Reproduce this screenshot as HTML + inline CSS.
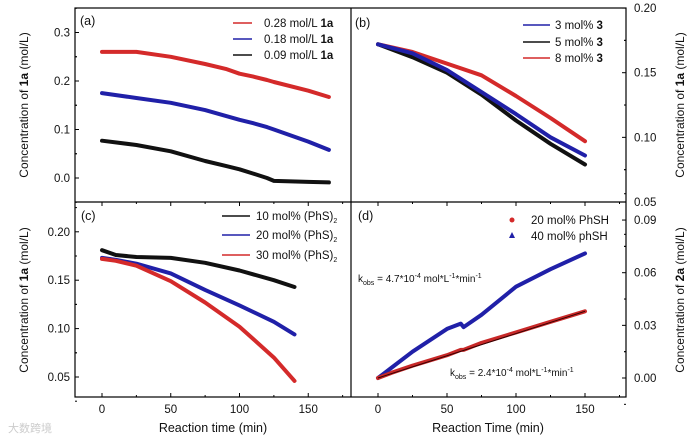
<!DOCTYPE html>
<html><head><meta charset="utf-8"><style>
body{margin:0;background:#fff;}
svg{display:block;font-family:"Liberation Sans","Noto Sans CJK SC",sans-serif;}
</style></head><body>
<svg id="c" width="700" height="443" viewBox="0 0 700 443"></svg>
<script>
// Panel (a)
const aTime=[0,25,50,75,90,100,110,120,125,150,165];
const aRed=[0.26,0.26,0.25,0.235,0.225,0.215,0.209,0.202,0.198,0.18,0.167];
const aBlue=[0.175,0.165,0.155,0.14,0.128,0.12,0.113,0.105,0.1,0.075,0.058];
const aBlack=[0.077,0.068,0.055,0.035,0.025,0.018,0.009,0.0,-0.006,-0.008,-0.009];
// Panel (b)
const bTime=[0,25,50,75,100,125,150];
const bBlue=[0.172,0.165,0.152,0.135,0.118,0.1,0.086];
const bBlack=[0.172,0.162,0.15,0.133,0.113,0.095,0.079];
const bRed=[0.172,0.166,0.157,0.148,0.132,0.115,0.097];
// Panel (c)
const cTime=[0,10,25,50,75,100,125,140];
const cBlack=[0.181,0.176,0.174,0.173,0.168,0.16,0.15,0.143];
const cBlue=[0.173,0.171,0.167,0.157,0.14,0.124,0.107,0.094];
const cRed=[0.172,0.17,0.165,0.149,0.127,0.102,0.07,0.046];
// Panel (d)
const dTime=[0,10,25,50,60,62,75,100,125,150];
const dBlue=[0,0.006,0.015,0.028,0.031,0.029,0.036,0.052,0.062,0.071];
const dRed=[0,0.003,0.007,0.013,0.016,0.016,0.02,0.026,0.032,0.038];
const aTicks=["0.0","0.1","0.2","0.3"];const aTickVals=[0,0.1,0.2,0.3];
const bTickVals=[0.05,0.1,0.15,0.2];const bTicks=["0.05","0.10","0.15","0.20"];
const cTickVals=[0.05,0.1,0.15,0.2];const cTicks=["0.05","0.10","0.15","0.20"];
const dTickVals=[0,0.03,0.06,0.09];const dTicks=["0.00","0.03","0.06","0.09"];
const xTickVals=[0,50,100,150];

const svg=document.getElementById('c');const NS='http://www.w3.org/2000/svg';
function mk(t,a,p){const e=document.createElementNS(NS,t);for(const k in a)e.setAttribute(k,a[k]);(p||svg).appendChild(e);return e;}
function txt(x,y,s,o,p){const e=mk('text',Object.assign({x:x,y:y,'font-size':11.5,fill:'#111'},o||{}),p);e.innerHTML=s;return e;}
const xL=t=>102+t*1.375, xR=t=>378+t*1.38;
const yA=v=>178-v*485, yB=v=>202-(v-0.05)*1293, yC=v=>377-(v-0.05)*968, yD=v=>378-v*1755;
function line(xs,ys,fx,fy,col,name){
  const pts=xs.map((t,i)=>fx(t).toFixed(1)+','+fy(ys[i]).toFixed(1)).join(' ');
  const e=mk('polyline',{points:pts,fill:'none',stroke:col,'stroke-width':4,'stroke-linejoin':'round','stroke-linecap':'round'});
  
  
}
const fr=mk('rect',{x:75,y:8,width:551,height:389,fill:'none',stroke:'#000','stroke-width':1.2});

mk('line',{x1:351,y1:8,x2:351,y2:397,stroke:'#000','stroke-width':1.2});
mk('line',{x1:75,y1:202,x2:626,y2:202,stroke:'#000','stroke-width':1.2});
function yticks(vals,labels,fy,x,side,lx){
  const step=vals[1]-vals[0];
  vals.forEach((v,i)=>{mk('line',{x1:x,y1:fy(v),x2:x+side*4,y2:fy(v),stroke:'#000'});
    mk('line',{x1:x,y1:fy(v+step/2),x2:x+side*2,y2:fy(v+step/2),stroke:'#000'});
    mk('line',{x1:x,y1:fy(v-step/2),x2:x+side*2,y2:fy(v-step/2),stroke:'#000'});
  const t=txt(lx,fy(v)+4,labels[i],{'text-anchor':side>0?'end':'start'});
  });}
yticks(aTickVals,aTicks,yA,75,1,70);
yticks(cTickVals,cTicks,yC,75,1,70);
yticks(bTickVals,bTicks,yB,626,-1,634);
yticks(dTickVals,dTicks,yD,626,-1,634);
xTickVals.forEach(t=>{
  [xL,xR].forEach(f=>{
    mk('line',{x1:f(t),y1:397,x2:f(t),y2:393,stroke:'#000'});mk('line',{x1:f(t),y1:202,x2:f(t),y2:206,stroke:'#000'});
    mk('line',{x1:f(t+25),y1:397,x2:f(t+25),y2:395,stroke:'#000'});mk('line',{x1:f(t+25),y1:202,x2:f(t+25),y2:204,stroke:'#000'});
  });
  let a=txt(xL(t),413,String(t),{'text-anchor':'middle'});
  let b=txt(xR(t),413,String(t),{'text-anchor':'middle'});
});
line(aTime,aRed,xL,yA,'#d42a2a','series-a-0.28');
line(aTime,aBlue,xL,yA,'#2020a8','series-a-0.18');
line(aTime,aBlack,xL,yA,'#111','series-a-0.09');
line(bTime,bRed,xR,yB,'#d42a2a','series-b-8');
line(bTime,bBlack,xR,yB,'#111','series-b-5');
line(bTime,bBlue,xR,yB,'#2020a8','series-b-3');
line(cTime,cBlack,xL,yC,'#111','series-c-10');
line(cTime,cBlue,xL,yC,'#2020a8','series-c-20');
line(cTime,cRed,xL,yC,'#d42a2a','series-c-30');
line(dTime,dBlue,xR,yD,'#2020a8','series-d-40');
line(dTime,dRed,xR,yD,'#c82828','series-d-20');
mk('line',{x1:xR(0),y1:yD(0),x2:xR(150),y2:yD(0.038),stroke:'#300','stroke-width':1});
function leg(x1,x2,y,col,s,tx,name){mk('line',{x1:x1,y1:y,x2:x2,y2:y,stroke:col,'stroke-width':1.5});
  const t=txt(tx,y+4,s);}
leg(233,252,23,'#d42a2a','0.28 mol/L <tspan font-weight="bold">1a</tspan>',264,'legend-entry');
leg(233,252,39,'#2020a8','0.18 mol/L <tspan font-weight="bold">1a</tspan>',264,'legend-entry');
leg(233,252,55,'#111','0.09 mol/L <tspan font-weight="bold">1a</tspan>',264,'legend-entry');
leg(523,550,25,'#2020a8','3 mol% <tspan font-weight="bold">3</tspan>',555,'legend-entry');
leg(523,550,42,'#111','5 mol% <tspan font-weight="bold">3</tspan>',555,'legend-entry');
leg(523,550,58,'#d42a2a','8 mol% <tspan font-weight="bold">3</tspan>',555,'legend-entry');
leg(222,250,216,'#111','10 mol% (PhS)<tspan font-size="7" dy="3">2</tspan>',256,'legend-entry');
leg(222,250,235,'#2020a8','20 mol% (PhS)<tspan font-size="7" dy="3">2</tspan>',256,'legend-entry');
leg(222,250,255,'#d42a2a','30 mol% (PhS)<tspan font-size="7" dy="3">2</tspan>',256,'legend-entry');
mk('circle',{cx:512,cy:220,r:2.5,fill:'#d42a2a'});
let t1=txt(531,224,'20 mol% PhSH');
mk('polygon',{points:'512,232 515,238 509,238',fill:'#2020a8'});
let t2=txt(531,240,'40 mol% phSH');
['(a)',80,25,'(b)',355,27,'(c)',81,220,'(d)',358,220].forEach((v,i,a)=>{if(i%3==0){const t=txt(a[i+1],a[i+2],v,{'font-size':12.5});}});
let k1=txt(358,282,'k<tspan font-size="7" dy="3">obs</tspan><tspan dy="-3"> = 4.7*10</tspan><tspan font-size="7" dy="-4">-4</tspan><tspan dy="4"> mol*L</tspan><tspan font-size="7" dy="-4">-1</tspan><tspan dy="4">*min</tspan><tspan font-size="7" dy="-4">-1</tspan>',{'font-size':10});

let k2=txt(450,376,'k<tspan font-size="7" dy="3">obs</tspan><tspan dy="-3"> = 2.4*10</tspan><tspan font-size="7" dy="-4">-4</tspan><tspan dy="4"> mol*L</tspan><tspan font-size="7" dy="-4">-1</tspan><tspan dy="4">*min</tspan><tspan font-size="7" dy="-4">-1</tspan>',{'font-size':10});

function vt(x,y,s,name){const t=txt(0,0,s,{'font-size':12,'text-anchor':'middle',transform:`translate(${x},${y}) rotate(-90)`});}
vt(28,105,'Concentration of <tspan font-weight="bold">1a</tspan> (mol/L)','y-axis-title-a');
vt(28,300,'Concentration of <tspan font-weight="bold">1a</tspan> (mol/L)','y-axis-title-c');
vt(684,105,'Concentration of <tspan font-weight="bold">1a</tspan> (mol/L)','y-axis-title-b');
vt(684,300,'Concentration of <tspan font-weight="bold">2a</tspan> (mol/L)','y-axis-title-d');
let x1=txt(213,432,'Reaction time (min)',{'font-size':12.5,'text-anchor':'middle'});
let x2=txt(488,432,'Reaction Time (min)',{'font-size':12.5,'text-anchor':'middle'});
let w=txt(8,432,'大数跨境',{'font-size':11,fill:'#ccc'});
</script>
</body></html>
